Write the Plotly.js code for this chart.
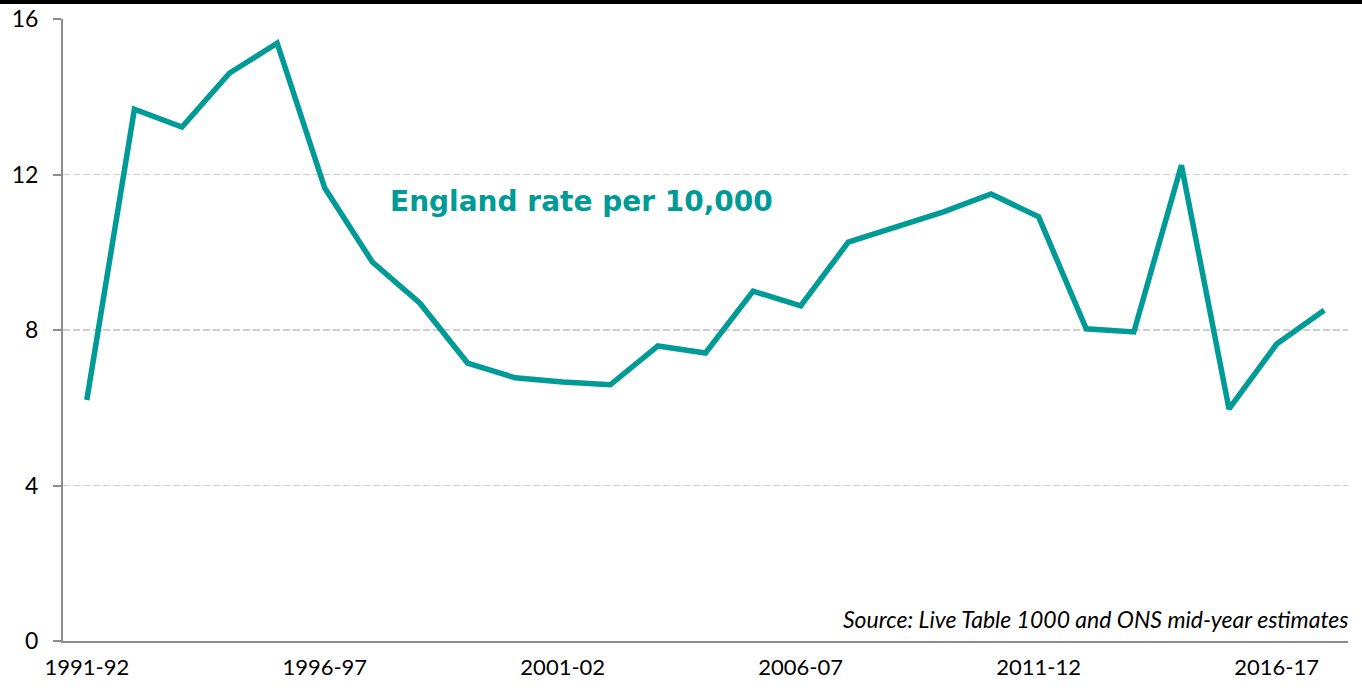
<!DOCTYPE html>
<html>
<head>
<meta charset="utf-8">
<script src="https://cdn.plot.ly/plotly-3.0.1.min.js"></script>
<style>
html,body{margin:0;padding:0;background:#fff;}
#chart{width:1362px;height:688px;}
</style>
</head>
<body>
<div id="chart"></div>
<script>
const years = ["1991-92","1992-93","1993-94","1994-95","1995-96","1996-97","1997-98","1998-99","1999-00","2000-01","2001-02","2002-03","2003-04","2004-05","2005-06","2006-07","2007-08","2008-09","2009-10","2010-11","2011-12","2012-13","2013-14","2014-15","2015-16","2016-17","2017-18"];
const rate = [6.2,13.68,13.22,14.61,15.38,11.65,9.75,8.69,7.15,6.77,6.66,6.59,7.59,7.41,9.0,8.62,10.26,10.65,11.04,11.5,10.91,8.03,7.95,12.24,5.97,7.64,8.51];
const tickLabels = ["1991-92","1996-97","2001-02","2006-07","2011-12","2016-17"];
const yTicks = [0,4,8,12,16];

const W = 1362, H = 688;
const m = {l:63, r:14, t:19, b:47};
const pw = W - m.l - m.r, ph = H - m.t - m.b;

const trace = {
  x: years, y: rate, type: 'scatter', mode: 'lines',
  line: {color: '#009A97', width: 5.5, shape: 'linear'},
  hoverinfo: 'x+y'
};

const layout = {
  width: W, height: H,
  margin: m,
  paper_bgcolor: '#fff', plot_bgcolor: '#fff',
  showlegend: false,
  font: {family: 'Lato, "Open Sans", sans-serif', color: '#000'},
  xaxis: {
    type: 'category', range: [-0.5, years.length - 0.5],
    tickmode: 'array', tickvals: tickLabels, ticktext: tickLabels,
    showgrid: false, zeroline: false,
    showline: true, linecolor: '#8c8c8c', linewidth: 2,
    ticks: '', tickfont: {size: 22, family: 'Lato, sans-serif', color: '#000'},
    ticklabelstandoff: 6
  },
  yaxis: {
    range: [0, 16], tickmode: 'array', tickvals: yTicks,
    showgrid: true, gridcolor: '#cfcfcf', gridwidth: 1.5, griddash: '7px,3px',
    zeroline: false,
    showline: true, linecolor: '#8c8c8c', linewidth: 2,
    ticks: 'outside', ticklen: 8, tickcolor: '#8c8c8c', tickwidth: 2,
    tickfont: {size: 23, family: 'Lato, sans-serif', color: '#000'},
    ticklabelstandoff: 10
  },
  shapes: [{
    type: 'rect', xref: 'paper', yref: 'paper',
    x0: -m.l/pw - 0.01, x1: 1 + m.r/pw + 0.01,
    y0: 1 + 15/ph, y1: 1 + (m.t + 5)/ph,
    fillcolor: '#000', line: {width: 0}
  }],
  annotations: [
    {
      text: '<b>England rate per 10,000</b>', xref: 'paper', yref: 'y',
      x: (388 - m.l)/pw, y: 11.3, xanchor: 'left', yanchor: 'middle', showarrow: false,
      font: {family: '"DejaVu Sans", "Liberation Sans", sans-serif', size: 28, color: '#009A97'}
    },
    {
      text: '<i>Source: Live Table 1000 and ONS mid-year estimates</i>', xref: 'paper', yref: 'paper',
      x: 1.002, y: 0.01, xanchor: 'right', yanchor: 'bottom', showarrow: false,
      font: {family: 'Lato, sans-serif', size: 23, color: '#000'}
    }
  ]
};

Plotly.newPlot('chart', [trace], layout, {displayModeBar: false, staticPlot: true});
</script>
</body>
</html>
